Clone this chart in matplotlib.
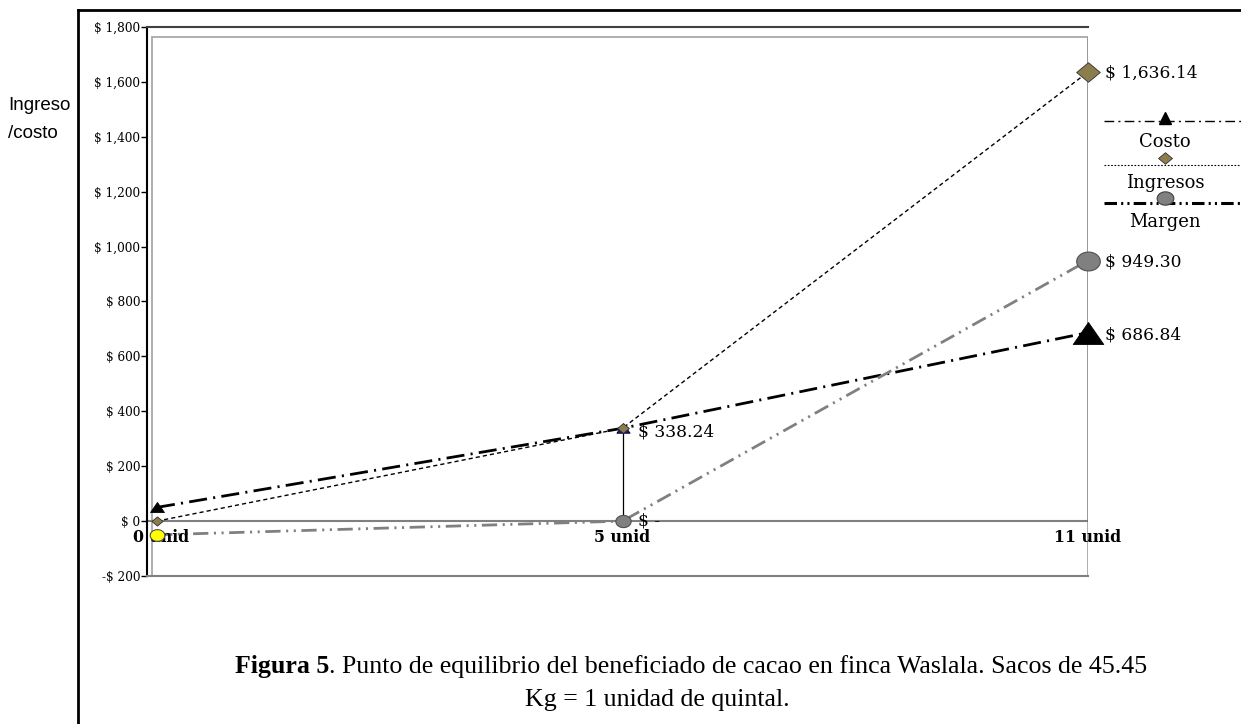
import numpy as np
import matplotlib
matplotlib.use('Agg')
import matplotlib.pyplot as plt
from matplotlib.path import Path
from matplotlib.patches import Rectangle

plt.rcParams['lines.scale_dashes'] = False

# datos
categorias = ['0 unid', '5 unid', '11 unid']
costo = [50.0, 338.24, 686.84]
ingresos = [0.0, 338.24, 1636.14]
margen = [-50.0, 0.0, 949.30]
yticks_val = [-200, 0, 200, 400, 600, 800, 1000, 1200, 1400, 1600, 1800]

# estilos
serif = 'DejaVu Serif'
tri_size = [10, 9.5, 22]
tri_color = ['black', '#1010c0', 'black']
dia_size = [8, 8.5, 17]
circ_size = [10.5, 11, 17]
circ_color = ['#ffff00', '#808080', '#808080']
olive = '#8c7d4c'

diamond = Path([(0, 0.83), (1, 0), (0, -0.83), (-1, 0), (0, 0.83)],
               [Path.MOVETO, Path.LINETO, Path.LINETO, Path.LINETO, Path.CLOSEPOLY])
triangle = Path([(0, 0.72), (1, -0.72), (-1, -0.72), (0, 0.72)],
                [Path.MOVETO, Path.LINETO, Path.LINETO, Path.CLOSEPOLY])
t = np.linspace(0, 2 * np.pi, 60)
ellipse = Path(np.column_stack([np.cos(t), 0.8 * np.sin(t)]))

W, H = 1241, 724
fig = plt.figure(figsize=(W / 100, H / 100), dpi=100)

x = np.arange(len(categorias))
ax = fig.add_axes([147 / W, 1 - 576 / H, (1088 - 147) / W, (576 - 27) / H])
ax.set_xlim(-10 / 465.5, 2)
ax.set_ylim(-200, 1800)
ax.patch.set_alpha(0)

ax.spines['right'].set_visible(False)
ax.spines['left'].set_color('black')
ax.spines['left'].set_linewidth(1.5)
ax.spines['top'].set_color('#404040')
ax.spines['top'].set_linewidth(1.5)
ax.spines['bottom'].set_color('#808080')
ax.spines['bottom'].set_linewidth(1.5)

ax.set_xticks([])
ax.set_yticks(yticks_val)
ax.set_yticklabels([('-$ ' if v < 0 else '$ ') + f'{abs(v):,}' for v in yticks_val],
                   fontfamily=serif, fontsize=8.7)
ax.tick_params(axis='y', direction='out', length=4, width=1, pad=1)

# marco interior gris
inner_top = 1763.5
ax.add_patch(Rectangle((5 / 941, 0), 1 - 5 / 941, (inner_top + 200) / 2000,
                       transform=ax.transAxes, fill=False, edgecolor='#a8a8a8', lw=1.3))
ax.axhline(0, color='#808080', lw=1.5, zorder=1)

# lineas verticales
ax.vlines(x[1], 0, ingresos[1], color='black', lw=0.9, zorder=2)
ax.vlines(x[2], 0, inner_top, color='black', lw=0.9, zorder=2)

# series
ax.plot(x, ingresos, color='black', lw=1, ls=(0, (3, 2.2)), zorder=3, clip_on=False)
ax.plot(x, costo, color='black', lw=2, ls=(0, (13, 4.5, 1.5, 4.5)), zorder=3, clip_on=False)
ax.plot(x, margen, color='#808080', lw=2, ls=(0, (11, 4, 1.5, 4, 1.5, 4)), zorder=3, clip_on=False)

for i in range(len(x)):
    ax.plot(x[i], margen[i], marker=ellipse, ms=circ_size[i], mfc=circ_color[i],
            mec='#505050', mew=0.8, ls='none', zorder=4, clip_on=False)
    ax.plot(x[i], costo[i], marker=triangle, ms=tri_size[i], mfc=tri_color[i],
            mec='black', mew=0.6, ls='none', zorder=5, clip_on=False)
    ax.plot(x[i], ingresos[i], marker=diamond, ms=dia_size[i], mfc=olive,
            mec='#303030', mew=0.6, ls='none', zorder=6, clip_on=False)

def etiqueta(v):
    return '$ -' if v == 0 else f'$ {v:,.2f}'

lab_kw = dict(fontfamily=serif, fontsize=12.3, va='center', ha='left',
              textcoords='offset points', annotation_clip=False)
ax.annotate(etiqueta(ingresos[2]), (x[2], ingresos[2]), xytext=(12, -1), **lab_kw)
ax.annotate(etiqueta(margen[2]), (x[2], margen[2]), xytext=(12, -1), **lab_kw)
ax.annotate(etiqueta(costo[2]), (x[2], costo[2]), xytext=(12, -2), **lab_kw)
ax.annotate(etiqueta(costo[1]), (x[1], costo[1]), xytext=(11, -3), **lab_kw)
ax.annotate(etiqueta(margen[1]), (x[1], margen[1]), xytext=(11, 0), **lab_kw)

for i, c in enumerate(categorias):
    ax.annotate(c, (x[i], 0), xytext=(3 if i == 0 else 0, -6), textcoords='offset points',
                ha='center', va='top', fontfamily=serif, fontweight='bold', fontsize=11.3,
                annotation_clip=False, zorder=3.5)

# capa de decoracion en pixeles
ov = fig.add_axes([0, 0, 1, 1], zorder=10)
ov.set_xlim(0, W)
ov.set_ylim(H, 0)
ov.axis('off')
ov.patch.set_alpha(0)

ov.plot([78, W], [10, 10], color='black', lw=2)
ov.plot([78, 78], [10, H], color='black', lw=2)

ov.text(8, 106, 'Ingreso', fontfamily='Liberation Sans', fontsize=13.5, va='center')
ov.text(8, 133, '/costo', fontfamily='Liberation Sans', fontsize=13.5, va='center')

# leyenda
ov.plot([1104, W], [121, 121], color='black', lw=1, ls=(0, (7, 3, 1.5, 3)))
ov.plot(1165, 118, marker='^', ms=9, color='black')
ov.text(1165, 142, 'Costo', fontfamily=serif, fontsize=13, ha='center', va='center')
ov.plot([1104, W], [165, 165], color='black', lw=0.8, ls=(0, (1.2, 1.2)))
ov.plot(1165, 158, marker=diamond, ms=10, mfc=olive, mec='#303030', mew=0.6)
ov.text(1165, 183, 'Ingresos', fontfamily=serif, fontsize=13, ha='center', va='center')
ov.plot([1104, W], [203, 203], color='black', lw=2.2, ls=(0, (9, 3, 1.5, 3, 1.5, 3)))
ov.plot(1165, 198, marker=ellipse, ms=12, mfc='#808080', mec='#404040', mew=0.8)
ov.text(1165, 222, 'Margen', fontfamily=serif, fontsize=13, ha='center', va='center')

# pie de figura
cap_font = 'Liberation Serif'
cap_size = 18.6
renderer = fig.canvas.get_renderer()
t1 = ov.text(235, 673, 'Figura 5', fontfamily=cap_font, fontsize=cap_size,
             fontweight='bold', va='baseline')
w1 = t1.get_window_extent(renderer).width
ov.text(235 + w1, 673, '. Punto de equilibrio del beneficiado de cacao en finca Waslala. Sacos de 45.45',
        fontfamily=cap_font, fontsize=cap_size, va='baseline')
ov.text(657, 706, 'Kg = 1 unidad de quintal.', fontfamily=cap_font, fontsize=cap_size,
        va='baseline', ha='center')

fig.savefig('out.png', dpi=100)
